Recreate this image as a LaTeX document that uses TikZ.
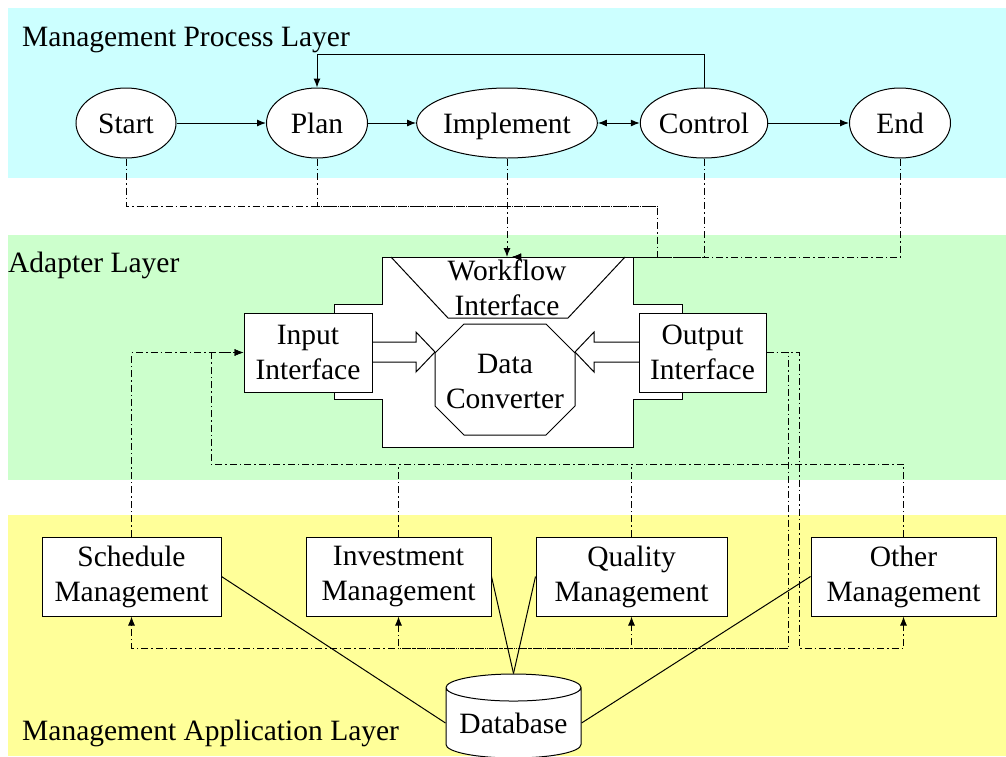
\documentclass[tikz,border=0pt]{standalone}
\usepackage{fontspec}
\setmainfont{Liberation Serif}
\usetikzlibrary{positioning,arrows.meta,shapes.geometric}
\definecolor{LayCyan}{HTML}{CCFFFF}
\definecolor{LayGreen}{HTML}{CCFFCC}
\definecolor{LayYellow}{HTML}{FFFF99}
\tikzset{
  laytext/.style={font=\fontsize{29.5}{35}\selectfont},
  laystate/.style={ellipse,draw,line width=1pt,fill=white,inner sep=0pt,minimum height=70pt,
    text height=20pt,text depth=0pt,laytext},
  laybox/.style={rectangle,draw,line width=1pt,fill=white,align=center,inner sep=0pt,minimum height=79pt,laytext},
  layshape/.style={draw,line width=1pt},
  layarrow/.style={-{Latex[length=9pt,width=7pt]},line width=1pt},
  laydash/.style={line width=0.9pt,dash pattern=on 7pt off 3pt on 1.5pt off 3pt},
  laylabel/.style={anchor=base west,inner sep=0pt,laytext},
}
\begin{document}
\begin{tikzpicture}[x=1pt,y=-1pt]
  \useasboundingbox (0,0) rectangle (1006,756);
  % layer bands
  \fill[LayCyan] (8,8) rectangle (1006,178);
  \fill[LayGreen] (8,235) rectangle (1006,480);
  \fill[LayYellow] (8,515) rectangle (1006,756);
  \node[laylabel] (lprocess) at (22,46) {Management Process Layer};
  \node[laylabel] (ladapter) at (8,272) {Adapter Layer};
  \node[laylabel] (lapp) at (22,740) {Management Application Layer};

  % process layer
  \node[laystate,minimum width=100pt] (start) at (126,123) {Start};
  \node[laystate,minimum width=101pt] (plan) at (317,123) {Plan};
  \node[laystate,minimum width=177pt] (implement) at (507,123) {Implement};
  \node[laystate,minimum width=112pt] (control) at (704,123) {Control};
  \node[laystate,minimum width=101pt] (end) at (900,123) {End};
  \draw[layarrow] (start) -- (plan);
  \draw[layarrow] (plan) -- (implement);
  \draw[layarrow,{Latex[length=9pt,width=7pt]}-{Latex[length=9pt,width=7pt]}] (implement) -- (control);
  \draw[layarrow] (control) -- (end);
  \draw[layarrow] (control.north) -- ++(0,-33) -| (plan.north);

  % adapter layer
  \draw[layshape,fill=white] (382,257) -- (633,257) -- (633,304) -- (682,304) -- (682,399)
    -- (633,399) -- (633,447) -- (382,447) -- (382,399) -- (334,399) -- (334,304)
    -- (382,304) -- cycle;
  \draw[layshape] (391,257) -- (448,318) -- (568,318) -- (625,257);
  \node[laytext,align=center] (workflow) at (507,288) {Workflow\\Interface};
  \draw[layshape] (464,324) -- (546,324) -- (575,353) -- (575,406) -- (546,435)
    -- (464,435) -- (435,406) -- (435,353) -- cycle;
  \node[laytext,align=center] (converter) at (505,381) {Data\\Converter};
  \node[laybox,minimum width=128pt] (input) at (308,352.5) {Input\\Interface};
  \node[laybox,minimum width=127pt] (output) at (702.5,352.5) {Output\\Interface};
  \draw[layshape] (372,342) -- (416,342) -- (416,332) -- (435,352) -- (416,372)
    -- (416,362) -- (372,362);
  \draw[layshape] (639,342) -- (594,342) -- (594,332) -- (575,352) -- (594,372)
    -- (594,362) -- (639,362);
  \coordinate (wftop) at (507,257);
  \coordinate (wfin) at (512,257);
  \coordinate (pjoin) at (657,206);

  % application layer
  \node[laybox,minimum width=179pt] (schedule) at (131.5,576.5) {Schedule\\Management};
  \node[laybox,minimum width=185pt] (investment) at (398.5,576.5) {Investment\\Management};
  \node[laybox,minimum width=191pt] (quality) at (631.5,576.5) {Quality\\Management};
  \node[laybox,minimum width=185pt] (other) at (903.5,576.5) {Other\\Management};
  \node[cylinder,shape border rotate=90,aspect=0.25,draw,line width=1pt,fill=white,
    minimum width=135pt,minimum height=84pt,inner sep=0pt,text height=20pt,text depth=0pt,
    laytext] (database) at (513.5,723) {Database};
  \draw[line width=1pt] (schedule.east) -- (database.west);
  \draw[line width=1pt] (investment.east) -- (database.north);
  \draw[line width=1pt] (quality.west) -- (database.north);
  \draw[line width=1pt] (other.west) -- (database.east);

  % process -> adapter
  \draw[laydash,layarrow] (start.south) |- (pjoin) |- (wfin);
  \draw[laydash] (plan.south) |- (pjoin);
  \draw[laydash,layarrow] (implement.south) -- (wftop);
  \draw[laydash,layarrow] (control.south) |- (wfin);
  \draw[laydash,layarrow] (end.south) |- (wfin);

  % application -> adapter
  \coordinate (ibus) at (211,464);
  \draw[laydash,layarrow] (schedule.north) |- (input.west);
  \draw[laydash,layarrow] (other.north) |- (ibus) |- (input.west);
  \draw[laydash] (investment.north) -- (investment.north |- ibus);
  \draw[laydash] (quality.north) -- (quality.north |- ibus);

  % adapter -> application
  \coordinate (obusa) at (788,648);
  \coordinate (obusb) at (799,648);
  \draw[laydash,layarrow] (output.east) -| (obusa) -| (schedule.south);
  \draw[laydash,layarrow] (obusa) -| (investment.south);
  \draw[laydash,layarrow] (obusa) -| (quality.south);
  \draw[laydash,layarrow] (output.east) -| (obusb) -| (other.south);
\end{tikzpicture}
\end{document}
